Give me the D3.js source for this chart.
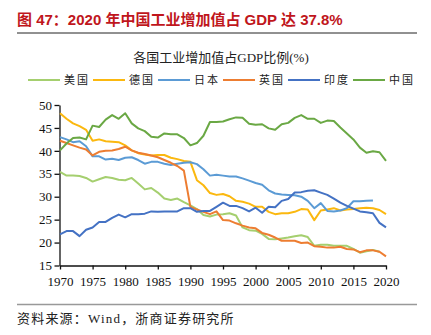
<!DOCTYPE html>
<html lang="zh">
<head>
  <meta charset="UTF-8">
  <title>各国工业增加值占GDP比例</title>
  <script src="https://d3js.org/d3.v7.min.js"></script>
  <style>
    body { margin: 0; padding: 0; background: #fff; }
    svg { display: block; }
    .serif { font-family: "Liberation Serif", "Noto Sans CJK SC", serif; }
    .axis text { font-family: "Liberation Serif", serif; font-size: 13px; fill: #111; }
    .axis path, .axis line { stroke: #111; stroke-width: 1.3; }
  </style>
</head>
<body>
<svg width="431" height="335"></svg>
<script>
  // years on the x axis
  const years = d3.range(1970, 2021);
  const xTicks = d3.range(1970, 2021, 5);
  const yTicks = d3.range(15, 51, 5);

  // industry value added, % of GDP
  const usa = [35.4, 34.6, 34.6, 34.5, 34.1, 33.3, 33.8, 34.3, 34.1, 33.7,
    33.6, 34.1, 32.9, 31.6, 31.9, 30.9, 29.6, 29.3, 29.6, 28.8,
    28.1, 27.3, 26.0, 25.7, 26.1, 26.2, 26.4, 25.9, 23.3, 22.7,
    22.6, 21.9, 20.8, 20.7, 20.9, 21.1, 21.4, 21.6, 21.2, 19.3,
    19.5, 19.5, 19.3, 19.3, 19.3, 18.6, 17.8, 18.1, 18.4, 18.0];
  const germany = [48.2, 47.0, 46.0, 45.4, 44.6, 42.2, 42.5, 42.1, 42.0, 41.9,
    41.2, 40.1, 39.5, 39.2, 39.0, 39.1, 39.1, 38.5, 38.2, 37.8,
    37.6, 33.6, 32.5, 30.8, 30.4, 30.6, 30.1, 29.1, 28.9, 28.5,
    27.8, 27.8, 26.7, 26.2, 26.4, 26.4, 26.7, 27.3, 27.2, 24.9,
    27.0, 27.2, 27.5, 27.0, 27.2, 27.3, 27.5, 27.6, 27.5, 27.1,
    26.2];
  const japan = [43.0, 42.5, 41.9, 42.1, 41.0, 38.8, 38.8, 38.1, 38.3, 38.0,
    38.5, 38.6, 38.0, 37.2, 37.6, 37.6, 37.2, 36.9, 37.2, 37.4,
    37.5, 37.1, 36.0, 34.6, 34.8, 34.6, 34.4, 34.4, 34.0, 33.5,
    33.0, 32.6, 31.4, 30.7, 30.5, 30.4, 30.3, 30.0, 29.1, 27.5,
    28.6, 26.9, 26.8, 27.0, 27.5, 29.0, 29.0, 29.1, 29.2];
  const uk = [42.2, 41.7, 41.2, 40.7, 40.3, 39.0, 39.8, 40.0, 40.1, 40.4,
    40.9, 40.1, 39.6, 39.3, 39.0, 38.6, 38.0, 37.4, 36.7, 35.7,
    27.8, 27.2, 26.7, 26.2, 26.8, 24.9, 24.8, 24.2, 23.7, 23.3,
    23.1, 22.1, 21.7, 21.1, 20.4, 20.4, 20.4, 19.9, 20.0, 19.2,
    19.1, 18.9, 18.9, 19.1, 18.6, 18.5, 17.9, 18.3, 18.3, 18.0,
    17.0];
  const india = [21.8, 22.5, 22.5, 21.4, 22.8, 23.3, 24.5, 24.5, 25.4, 26.1,
    25.5, 26.2, 26.2, 26.3, 26.8, 26.7, 26.8, 26.8, 26.8, 27.5,
    27.5, 26.7, 26.9, 26.9, 27.8, 28.7, 28.0, 28.0, 27.5, 26.8,
    27.6, 26.5, 27.8, 27.7, 29.1, 29.5, 30.9, 31.0, 31.3, 31.4,
    30.9, 30.4, 29.6, 28.7, 28.0, 27.4, 26.8, 26.6, 26.4, 24.3,
    23.3];
  const china = [40.1, 41.6, 42.8, 42.9, 42.5, 45.5, 45.2, 46.8, 47.8, 47.0,
    48.2, 46.0, 44.9, 44.3, 43.1, 42.9, 43.8, 43.6, 43.6, 42.8,
    41.2, 41.7, 43.3, 46.3, 46.3, 46.4, 46.9, 47.3, 47.2, 45.9,
    45.7, 45.8, 44.9, 44.6, 45.8, 46.1, 47.2, 47.8, 47.0, 47.0,
    46.1, 46.6, 46.5, 45.1, 43.8, 42.5, 40.7, 39.6, 39.9, 39.7,
    37.8];

  const seriesNames = ["美国", "德国", "日本", "英国", "印度", "中国"];
  const seriesValues = [usa, germany, japan, uk, india, china];
  const colors = ["#a5cf6f", "#fbb80f", "#5b9bd5", "#ed7d31", "#4472c4", "#6aa844"];

  const series = seriesNames.map((name, i) => ({
    name, color: colors[i],
    values: seriesValues[i].map((v, j) => ({ year: years[j], value: v }))
  }));

  const svg = d3.select("svg");

  // report header
  svg.append("text")
    .attr("x", 17).attr("y", 25)
    .attr("font-family", "'Liberation Sans', 'Noto Sans CJK SC', sans-serif")
    .attr("font-size", "15px").attr("font-weight", "bold")
    .attr("fill", "#c0161c")
    .text("图 47：2020 年中国工业增加值占 GDP 达 37.8%");
  svg.append("line")
    .attr("x1", 17).attr("x2", 417).attr("y1", 33).attr("y2", 33)
    .attr("stroke", "#222").attr("stroke-width", 1);

  svg.append("text").attr("class", "serif")
    .attr("x", 221).attr("y", 62)
    .attr("text-anchor", "middle")
    .attr("font-size", "13px").attr("fill", "#222")
    .text("各国工业增加值占GDP比例(%)");

  // legend
  const legend = svg.append("g").attr("transform", "translate(28,80)");
  const item = legend.selectAll("g").data(series).join("g")
    .attr("transform", (d, i) => `translate(${i * 65},0)`);
  item.append("line")
    .attr("x1", 0).attr("x2", 32).attr("y1", 0).attr("y2", 0)
    .attr("stroke", d => d.color).attr("stroke-width", 2);
  item.append("text").attr("class", "serif")
    .attr("x", 36).attr("y", 4)
    .attr("font-size", "11px").attr("letter-spacing", "2px").attr("fill", "#222")
    .text(d => d.name);

  // plot
  const x = d3.scaleLinear().domain([1970, 2020]).range([60, 386]);
  const y = d3.scaleLinear().domain([15, 50]).range([265.5, 105]);

  svg.append("g").attr("class", "axis")
    .attr("transform", "translate(0,265.5)")
    .call(d3.axisBottom(x).tickValues(xTicks).tickFormat(d3.format("d"))
      .tickSize(4).tickSizeOuter(0).tickPadding(7));
  svg.append("g").attr("class", "axis")
    .attr("transform", "translate(59.5,0)")
    .call(d3.axisLeft(y).tickValues(yTicks).tickSize(5).tickSizeOuter(0).tickPadding(2.5));

  const line = d3.line().x(d => x(d.year)).y(d => y(d.value));
  svg.append("g").selectAll("path").data(series).join("path")
    .attr("fill", "none")
    .attr("stroke", d => d.color)
    .attr("stroke-width", 2)
    .attr("stroke-linejoin", "round")
    .attr("d", d => line(d.values));

  // source footer
  svg.append("line")
    .attr("x1", 17).attr("x2", 417).attr("y1", 304.5).attr("y2", 304.5)
    .attr("stroke", "#999").attr("stroke-width", 1.6);
  svg.append("text").attr("class", "serif")
    .attr("x", 17).attr("y", 323)
    .attr("font-size", "13px").attr("letter-spacing", "1.2px").attr("fill", "#222")
    .text("资料来源：Wind，浙商证券研究所");
</script>
</body>
</html>
